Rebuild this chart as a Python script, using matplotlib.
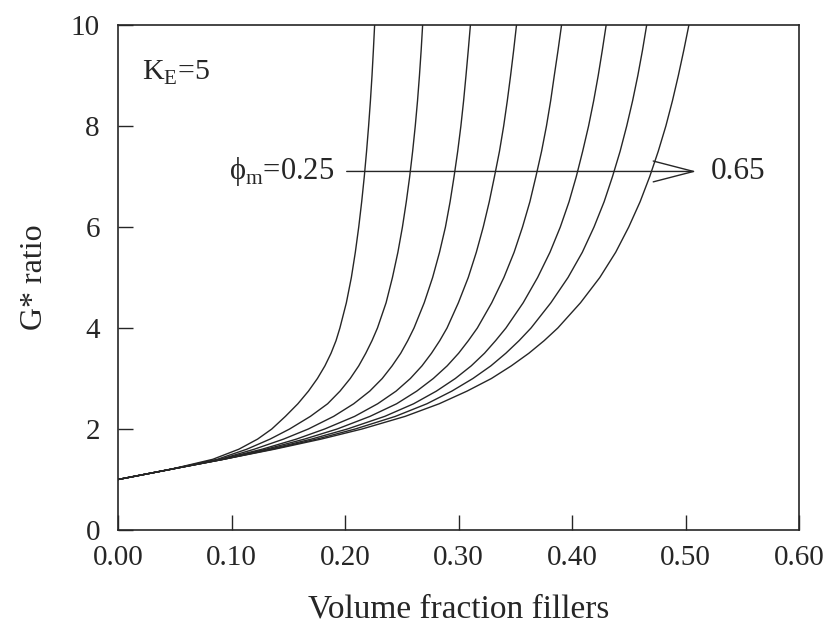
import matplotlib
matplotlib.use("Agg")
import matplotlib.pyplot as plt

plt.rcParams["font.family"] = ["Liberation Serif", "DejaVu Serif"]
plt.rcParams["mathtext.fontset"] = "custom"
plt.rcParams["mathtext.rm"] = "Liberation Serif"

# G* ratio levels shared by all curves
g_levels = [1.0, 1.2, 1.4, 1.6, 1.8, 2.0, 2.25, 2.5, 2.75, 3.0, 3.25, 3.5, 3.75,
            4.0, 4.5, 5.0, 5.5, 6.0, 6.5, 7.0, 7.5, 8.0, 8.5, 9.0, 9.5, 10.0]

# volume fraction at those levels (0.25 -> 0.65)
phi_c1 = [0.0, 0.046, 0.0835, 0.1065, 0.1230, 0.1355, 0.1475, 0.1585, 0.1678, 0.1757,
          0.1823, 0.1877, 0.1921, 0.1955, 0.2012, 0.2056, 0.2091, 0.2121, 0.2147,
          0.2170, 0.2190, 0.2208, 0.2224, 0.2238, 0.2250, 0.2261]
phi_c2 = [0.0, 0.046, 0.0875, 0.1135, 0.1340, 0.1512, 0.1695, 0.1847, 0.1956, 0.2046,
          0.2121, 0.2183, 0.2238, 0.2286, 0.2362, 0.2418, 0.2466, 0.2506, 0.2540,
          0.2570, 0.2596, 0.2619, 0.2639, 0.2656, 0.2671, 0.2684]
phi_c3 = [0.0, 0.046, 0.0900, 0.1201, 0.1459, 0.1677, 0.1900, 0.2077, 0.2218, 0.2328,
          0.2415, 0.2491, 0.2553, 0.2608, 0.2698, 0.2772, 0.2833, 0.2885, 0.2926,
          0.2961, 0.2993, 0.3021, 0.3045, 0.3066, 0.3086, 0.3105]
phi_c4 = [0.0, 0.046, 0.0907, 0.1270, 0.1572, 0.1821, 0.2085, 0.2288, 0.2450, 0.2576,
          0.2678, 0.2762, 0.2835, 0.2899, 0.2999, 0.3086, 0.3157, 0.3218, 0.3271,
          0.3317, 0.3361, 0.3398, 0.3430, 0.3459, 0.3486, 0.3511]
phi_c5 = [0.0, 0.046, 0.0921, 0.1304, 0.1643, 0.1931, 0.2220, 0.2455, 0.2632, 0.2778,
          0.2900, 0.3001, 0.3087, 0.3166, 0.3293, 0.3400, 0.3490, 0.3564, 0.3629,
          0.3682, 0.3732, 0.3775, 0.3812, 0.3844, 0.3877, 0.3908]
phi_c6 = [0.0, 0.046, 0.0930, 0.1336, 0.1704, 0.2021, 0.2350, 0.2605, 0.2805, 0.2972,
          0.3112, 0.3229, 0.3327, 0.3418, 0.3570, 0.3697, 0.3806, 0.3897, 0.3974,
          0.4038, 0.4094, 0.4146, 0.4191, 0.4231, 0.4267, 0.4301]
phi_c7 = [0.0, 0.046, 0.0930, 0.1361, 0.1751, 0.2090, 0.2444, 0.2722, 0.2941, 0.3127,
          0.3285, 0.3417, 0.3534, 0.3639, 0.3814, 0.3965, 0.4091, 0.4194, 0.4283,
          0.4357, 0.4424, 0.4482, 0.4534, 0.4580, 0.4621, 0.4658]
phi_c8 = [0.0, 0.046, 0.0930, 0.1380, 0.1790, 0.2150, 0.2530, 0.2830, 0.3075, 0.3290,
          0.3465, 0.3620, 0.3755, 0.3875, 0.4075, 0.4245, 0.4385, 0.4500, 0.4600,
          0.4685, 0.4760, 0.4827, 0.4885, 0.4937, 0.4985, 0.5030]
curves = [phi_c1, phi_c2, phi_c3, phi_c4, phi_c5, phi_c6, phi_c7, phi_c8]

x_ticks = [0.0, 0.1, 0.2, 0.3, 0.4, 0.5, 0.6]
x_labels = ["0.00", "0.10", "0.20", "0.30", "0.40", "0.50", "0.60"]
y_ticks = [0, 2, 4, 6, 8, 10]

arrow_y = 7.1
arrow_x0, arrow_x1 = 0.2015, 0.5095

ink = "#262626"
fig = plt.figure(figsize=(8.31, 6.28), dpi=100)
ax = fig.add_axes([118 / 831, 1 - 530 / 628, 681 / 831, 505 / 628])

for phis in curves:
    ax.plot(phis, g_levels, color=ink, lw=1.0)

ax.annotate("", xy=(arrow_x1, arrow_y), xytext=(arrow_x0, arrow_y),
            arrowprops=dict(arrowstyle="->,head_length=2.9,head_width=0.75",
                            color=ink, lw=1.0, shrinkA=0, shrinkB=0))
ax.text(arrow_x0 - 0.011, arrow_y, "\u03d5$_\\mathregular{m}$=0.25",
        fontsize=22, ha="right", va="center", color=ink)
ax.text(arrow_x1 + 0.013, arrow_y, "0.65", fontsize=22.5, ha="left",
        va="center", color=ink)
ax.text(0.021, 9.05, "K$_\\mathregular{E}$=5", fontsize=21.5, ha="left",
        va="center", color=ink)

ax.set_xlim(0, 0.6)
ax.set_ylim(0, 10)
ax.set_xticks(x_ticks)
ax.set_xticklabels(x_labels)
ax.set_yticks(y_ticks)
ax.tick_params(direction="in", length=11, width=1.0, labelsize=21,
               colors=ink, top=False, right=False)
ax.tick_params(axis="x", pad=11)
ax.tick_params(axis="y", pad=13)
for s in ax.spines.values():
    s.set_linewidth(1.2)
    s.set_color(ink)

ax.set_xlabel("Volume fraction fillers", fontsize=24, color=ink, labelpad=16)
ax.set_ylabel("G* ratio", fontsize=23, color=ink, labelpad=16)

fig.savefig("out.png", dpi=100, facecolor="white")
